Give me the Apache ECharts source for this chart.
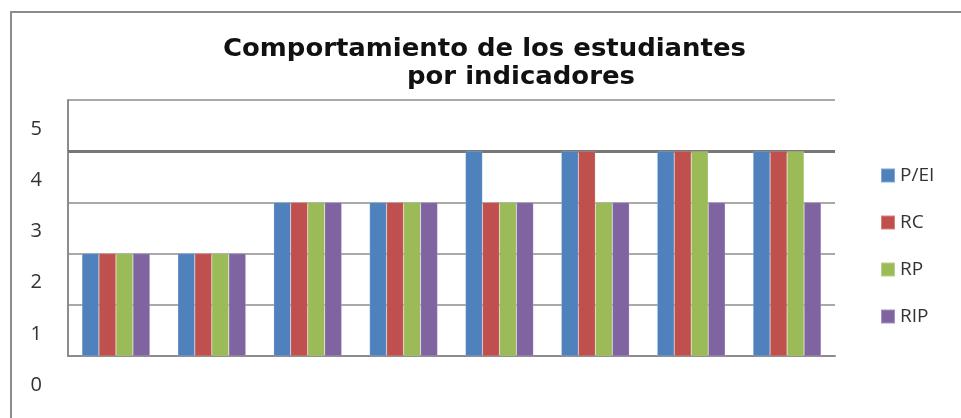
<!DOCTYPE html>
<html>
<head>
<meta charset="utf-8">
<script src="https://cdn.jsdelivr.net/npm/echarts@6/dist/echarts.min.js"></script>
<style>html,body{margin:0;padding:0;background:#fff;}#c{width:961px;height:418px;}</style>
</head>
<body>
<div id="c"></div>
<script>
const categories = ['1', '2', '3', '4', '5', '6', '7', '8'];
const seriesNames = ['P/EI', 'RC', 'RP', 'RIP'];
const pei = [2, 2, 3, 3, 4, 4, 4, 4];
const rc  = [2, 2, 3, 3, 3, 4, 4, 4];
const rp  = [2, 2, 3, 3, 3, 3, 4, 4];
const rip = [2, 2, 3, 3, 3, 3, 3, 3];
const yTicks = [0, 1, 2, 3, 4, 5];
const titleLines = ['Comportamiento de los estudiantes', 'por indicadores'];
const colors = ['#4F81BD', '#C0504D', '#9BBB59', '#8064A2'];
const values = [pei, rc, rp, rip];

const chart = echarts.init(document.getElementById('c'));
const series = values.map((v, i) => ({
  name: seriesNames[i],
  type: 'bar',
  xAxisIndex: 0,
  yAxisIndex: 0,
  data: v,
  barWidth: 17,
  barGap: '0%',
  itemStyle: { color: colors[i], borderColor: 'rgba(255,255,255,0.3)', borderWidth: 0.5 },
  z: 2
}));
series[0].markLine = {
  silent: true,
  symbol: 'none',
  z: 1,
  label: { show: false },
  lineStyle: { color: '#777', width: 3, type: 'solid' },
  data: [{ yAxis: 4 }]
};

const titleFont = 'bold 24px "DejaVu Sans"';
const yMin = yTicks[0], yMax = yTicks[yTicks.length - 1];
chart.setOption({
  animation: false,
  color: colors,
  graphic: [{
    type: 'rect',
    shape: { x: 11, y: 12, width: 970, height: 430 },
    style: { fill: 'none', stroke: '#8c8c8c', lineWidth: 2 },
    z: -1
  }, {
    type: 'text', x: 223, y: 50, scaleX: 1.08,
    style: { text: titleLines[0], font: titleFont, fill: '#111', align: 'left', verticalAlign: 'middle' }
  }, {
    type: 'text', x: 407, y: 78, scaleX: 1.08,
    style: { text: titleLines[1], font: titleFont, fill: '#111', align: 'left', verticalAlign: 'middle' }
  }],
  legend: {
    orient: 'vertical',
    left: 875,
    top: 161,
    itemWidth: 14,
    itemHeight: 14,
    itemGap: 28,
    icon: 'rect',
    textStyle: { fontFamily: 'Open Sans', fontSize: 19, color: '#333' },
    data: seriesNames
  },
  grid: [
    { left: 68, right: 126, top: 100, bottom: 62 },
    { left: 68, right: 126, top: 129, bottom: 33 }
  ],
  xAxis: [{
    type: 'category',
    gridIndex: 0,
    data: categories,
    axisLine: { show: true, lineStyle: { color: '#8c8c8c', width: 2 } },
    axisTick: { show: false },
    axisLabel: { show: false }
  }, {
    type: 'category',
    gridIndex: 1,
    data: categories,
    show: false
  }],
  yAxis: [{
    type: 'value',
    gridIndex: 0,
    min: yMin,
    max: yMax,
    interval: 1,
    axisLine: { show: true, lineStyle: { color: '#8c8c8c', width: 2 } },
    axisTick: { show: false },
    axisLabel: { show: false },
    splitLine: { show: true, lineStyle: { color: '#8c8c8c', width: 1.5 } }
  }, {
    type: 'value',
    gridIndex: 1,
    min: yMin,
    max: yMax,
    interval: 1,
    axisLine: { show: false },
    axisTick: { show: false },
    splitLine: { show: false },
    axisLabel: {
      margin: 26,
      fontFamily: 'Open Sans',
      fontSize: 20,
      color: '#333',
      showMinLabel: true,
      showMaxLabel: true
    }
  }],
  series: series
});
</script>
</body>
</html>
